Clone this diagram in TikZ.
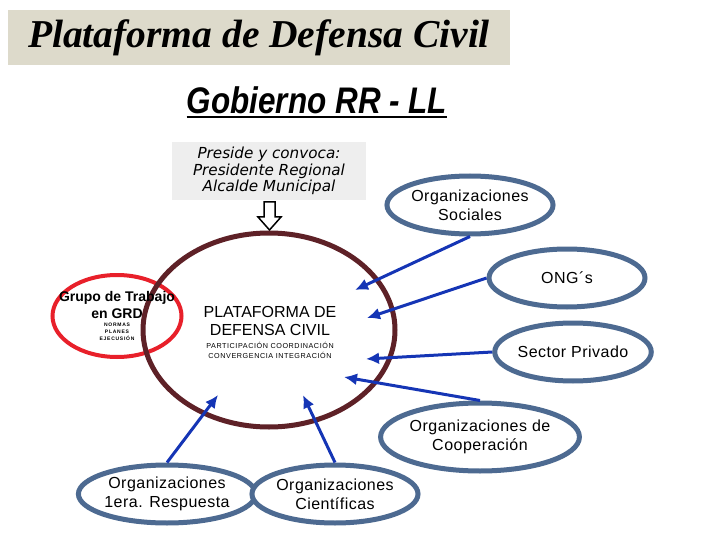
\documentclass[tikz,border=0pt]{standalone}
\usepackage{fontspec}
\setmainfont{Liberation Sans}
\newfontfamily\titlefont{Liberation Serif}
\newfontfamily\gobfont[FakeStretch=0.85]{Liberation Sans}
\newfontfamily\presfont{DejaVu Sans}
\newfontfamily\spacedfont[LetterSpace=3]{Liberation Sans}
\newfontfamily\smallfont[LetterSpace=8]{Liberation Sans}
\newfontfamily\tinyfont[LetterSpace=15]{Liberation Sans}
\usetikzlibrary{arrows.meta, positioning, shapes}
\definecolor{TIT}{HTML}{DDDACB}
\definecolor{PRE}{HTML}{EEEEEE}
\definecolor{PDC}{HTML}{5E2127}
\definecolor{GRD}{HTML}{E8202A}
\definecolor{ORG}{HTML}{4D6A91}
\definecolor{LNK}{HTML}{1535B5}
\tikzset{
  ORG/.style={% Style for the outside organizations
      ellipse,
      line width=5pt,
      draw=ORG,
      fill=white,
      inner sep=0pt,
      minimum width=156pt,
      minimum height=58pt,
      align=center,
      font=\spacedfont\fontsize{16}{19}\selectfont,
  },
  LNK/.style={% Style for the links into the platform
      draw=LNK,
      line width=3pt,
      -{Latex[length=13pt, width=12pt]},
  },
  TXT/.style={% Plain text, no border
      inner sep=0pt,
      align=center,
  }
}

\begin{document}
\begin{tikzpicture}[x=1pt, y=-1pt]
    \useasboundingbox (0,0) rectangle (720,540);
    % headings
    \node[fill=TIT, minimum width=502pt, minimum height=55pt,
      font=\titlefont\bfseries\itshape\fontsize{39.5}{44}\selectfont] (Title) at (259,37.5) {Plataforma de Defensa Civil};
    \node[TXT, font=\gobfont\bfseries\itshape\fontsize{37}{40}\selectfont] (Gob) at (317,100) {Gobierno RR - LL};
    \draw[line width=2.5pt] ([yshift=-4pt]Gob.base west) -- ([yshift=-4pt]Gob.base east);
    \node[fill=PRE, minimum width=194pt, minimum height=58pt, inner sep=0pt, align=center,
      font=\presfont\itshape\fontsize{15.2}{16.5}\selectfont] (Pres) at (269,171) {Preside y convoca:\\Presidente Regional\\Alcalde Municipal};
    \draw[fill=white, line width=1.5pt] (264,202) -- (275,202) -- (275,217) -- (281,217)
      -- (269.5,230) -- (258,217) -- (264,217) -- cycle;
    % the platform and the working group
    \node[ellipse, draw=GRD, line width=4pt, minimum width=129pt, minimum height=82pt] (Grd) at (117,316) {};
    \node[ellipse, draw=PDC, line width=5pt, inner sep=0pt, minimum width=252pt, minimum height=194pt] (Pdc) at (269,330) {};
    \node[TXT, font=\fontsize{16}{18}\selectfont] (PdcName) at (270,321) {PLATAFORMA DE\\DEFENSA CIVIL};
    \node[TXT, font=\smallfont\fontsize{7.2}{10}\selectfont] (PdcTask) at (270,350) {PARTICIPACIÓN COORDINACIÓN\\CONVERGENCIA INTEGRACIÓN};
    \node[TXT, font=\bfseries\fontsize{14}{17}\selectfont] (GrdName) at (117,305) {Grupo de Trabajo\\en GRD};
    \node[TXT, font=\tinyfont\bfseries\fontsize{5}{7}\selectfont] (GrdTask) at (117,332) {NORMAS\\PLANES\\EJECUSIÓN};
    % organizations around it
    \node[ORG] (Soc) at (470,205) {Organizaciones\\Sociales};
    \node[ORG] (Ong) at (567,278) {ONG´s};
    \node[ORG] (Priv) at (573,352) {Sector Privado};
    \node[ORG, minimum height=68pt] (Coop) at (480,437) {Organizaciones de\\Cooperación};
    \node[ORG, minimum width=140pt] (Resp) at (167,494) {Organizaciones\\1era. Respuesta};
    \node[ORG] (Cien) at (335,494) {Organizaciones\\Científicas};
    % arrow ends inside the platform
    \coordinate (inSoc) at (355,290);
    \coordinate (inOng) at (367,318);
    \coordinate (inPriv) at (366,359);
    \coordinate (inCoop) at (344,377);
    \coordinate (inResp) at (218,395);
    \coordinate (inCien) at (303,395);
    \draw[LNK] (Soc.south) -- (inSoc);
    \draw[LNK] (Ong.west) -- (inOng);
    \draw[LNK] (Priv.west) -- (inPriv);
    \draw[LNK] (Coop.north) -- (inCoop);
    \draw[LNK] (Resp.north) -- (inResp);
    \draw[LNK] (Cien.north) -- (inCien);
\end{tikzpicture}
\end{document}
